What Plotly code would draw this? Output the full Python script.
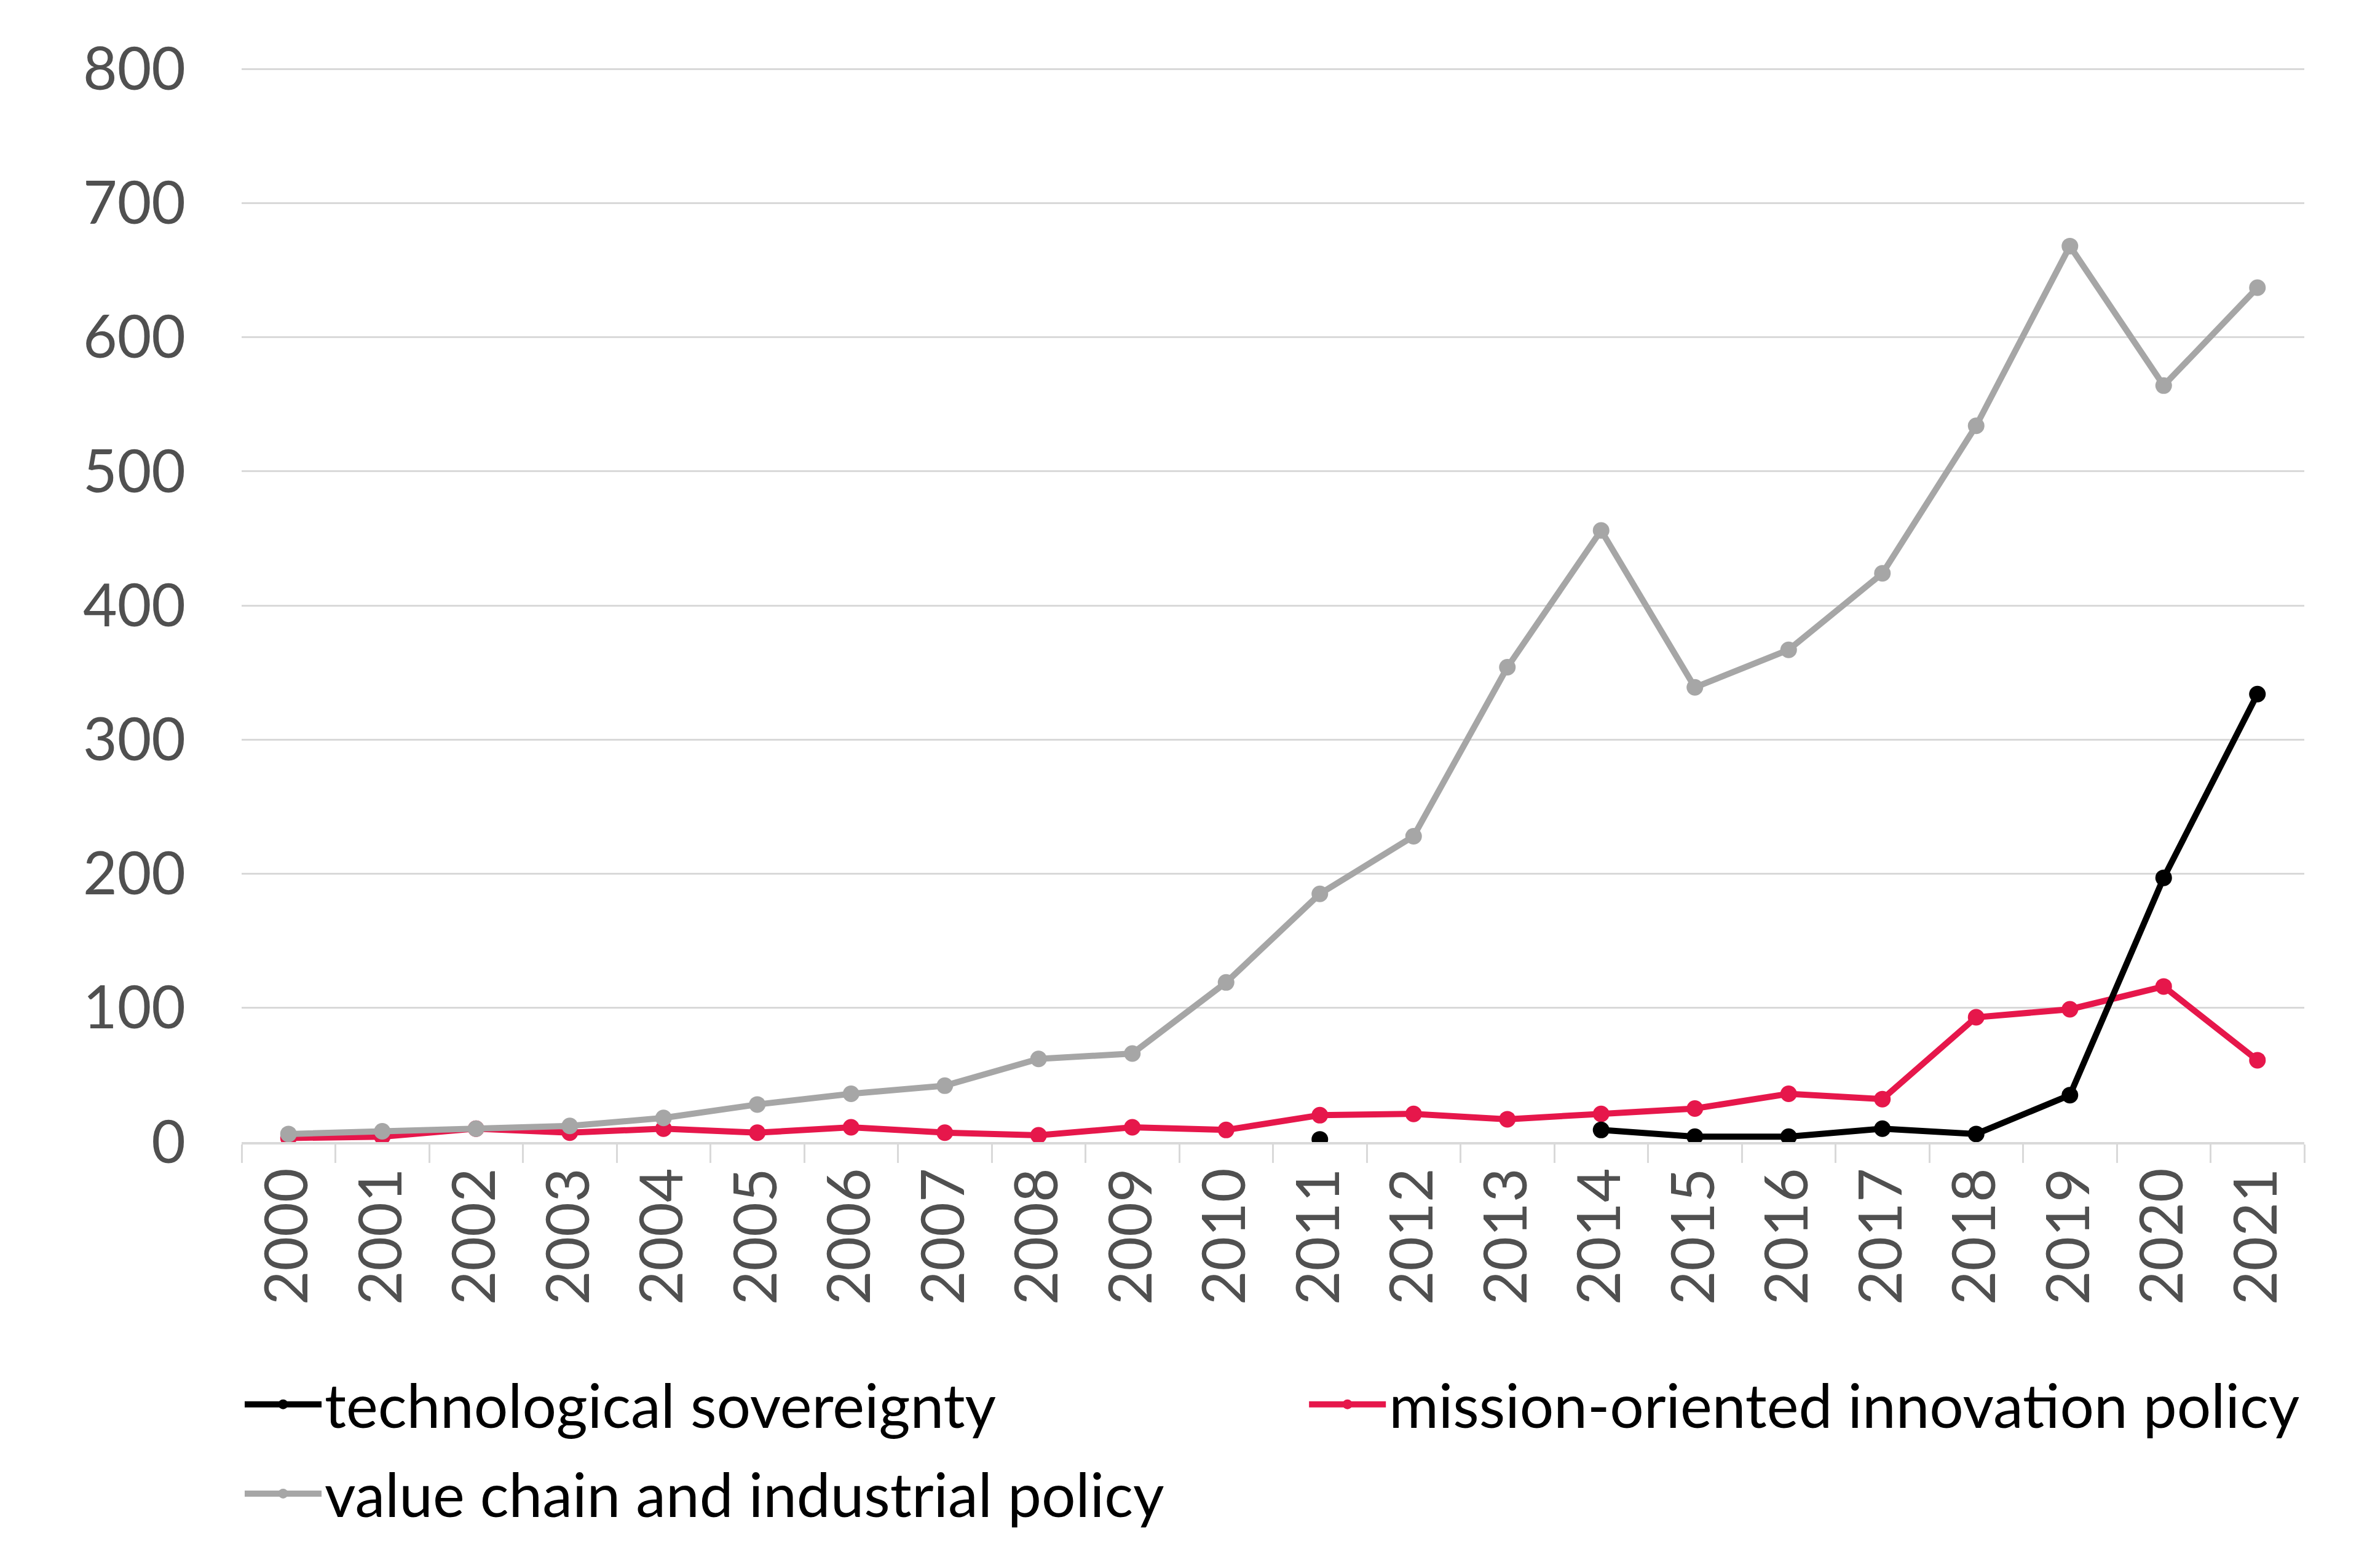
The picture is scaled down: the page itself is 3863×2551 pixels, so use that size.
import plotly.graph_objects as go

years = [str(y) for y in range(2000, 2022)]

tech_sovereignty = [None, None, None, None, None, None, None, None, None, None, None,
                    2, None, None, 9, 4, 4, 10, 6, 35, 197, 334]
mission_oriented = [3, 4, 10, 7, 10, 7, 11, 7, 5, 11, 9,
                    20, 21, 17, 21, 25, 36, 32, 93, 99, 116, 61]
value_chain = [6, 8, 10, 12, 18, 28, 36, 42, 62, 66, 119,
               185, 228, 354, 456, 339, 367, 424, 534, 668, 564, 637]

y_ticks = [0, 100, 200, 300, 400, 500, 600, 700, 800]

FONT = "Lato"
RED = "#E6174B"
GRAY = "#A6A6A6"
BLACK = "#000000"
LW = 10
MS = 27

fig = go.Figure()

fig.add_trace(go.Scatter(
    x=years, y=mission_oriented, name="mission-oriented innovation policy",
    mode="lines+markers", line=dict(color=RED, width=LW),
    marker=dict(color=RED, size=MS), legend="legend2"))
fig.add_trace(go.Scatter(
    x=years, y=value_chain, name="value chain and industrial policy",
    mode="lines+markers", line=dict(color=GRAY, width=LW),
    marker=dict(color=GRAY, size=MS), legend="legend3"))
fig.add_trace(go.Scatter(
    x=years, y=tech_sovereignty, name="technological sovereignty",
    mode="lines+markers", line=dict(color=BLACK, width=LW),
    marker=dict(color=BLACK, size=MS), connectgaps=False, legend="legend"))

leg_common = dict(
    orientation="h", xanchor="left", yanchor="middle",
    font=dict(family=FONT, size=98, color="#000000"),
    itemwidth=125, bgcolor="rgba(0,0,0,0)")

fig.update_layout(
    width=3863, height=2551,
    margin=dict(l=393, r=115, t=108, b=693),
    paper_bgcolor="white", plot_bgcolor="white",
    font=dict(family=FONT, size=96, color="#505050"),
    legend=dict(x=0.0, y=-0.244, **leg_common),
    legend2=dict(x=0.516, y=-0.244, **leg_common),
    legend3=dict(x=0.0, y=-0.327, **leg_common),
    showlegend=True,
)

fig.update_xaxes(
    type="category", range=[-0.5, 21.5], tickangle=-90,
    tickson="boundaries", ticks="outside", ticklen=30, tickwidth=3,
    tickcolor="#D9D9D9", showline=True, linecolor="#D9D9D9", linewidth=4,
    showgrid=False, zeroline=False,
    tickfont=dict(family=FONT, size=96, color="#505050"))

fig.update_yaxes(
    range=[0, 802], tickvals=y_ticks, ticktext=[str(v) for v in y_ticks],
    showgrid=True, gridcolor="#D9D9D9", gridwidth=3, zeroline=False,
    showline=False, ticks="", ticklabelstandoff=90,
    tickfont=dict(family=FONT, size=96, color="#505050"))

fig.write_html("out.html")
